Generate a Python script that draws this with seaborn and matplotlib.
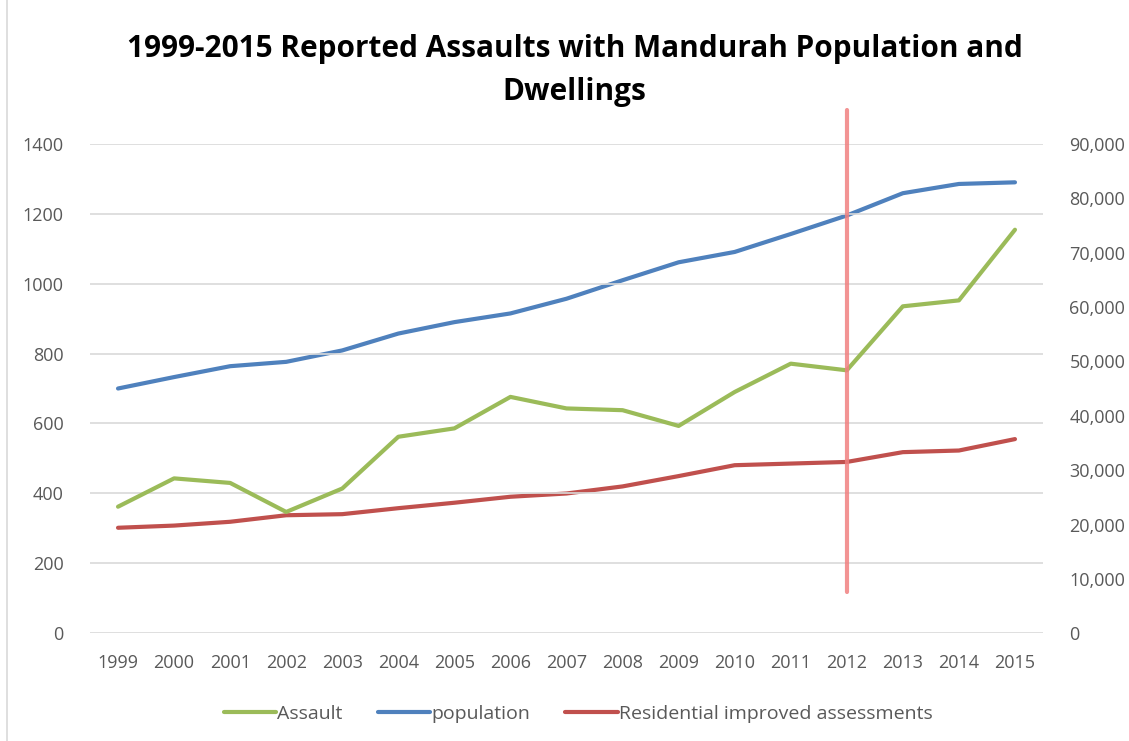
import numpy as np
import pandas as pd
import matplotlib
matplotlib.use("Agg")
import matplotlib.pyplot as plt
import matplotlib.ticker as mticker
import seaborn as sns

#----------------------------------
# Data
#----------------------------------
years = list(range(1999, 2016))
assault = [362, 443, 430, 347, 414, 562, 586, 676, 643, 638, 593, 690, 771, 752, 935, 952, 1154]
population = [45000, 47100, 49100, 49900, 52000, 55100, 57200, 58800, 61500, 64900,
              68200, 70100, 73400, 76800, 80900, 82600, 82900]
residential = [19400, 19800, 20500, 21700, 21900, 23000, 24000, 25100, 25700, 27000,
               28900, 30900, 31200, 31500, 33300, 33600, 35700]

marker_year = 2012
marker_span = [119, 1495]   # vertical extent of the red marker line (left-axis units)

df = pd.DataFrame({"year": years, "Assault": assault,
                   "population": population,
                   "Residential improved assessments": residential})

green = "#9BBB59"
blue = "#4F81BD"
red = "#C0504D"
grey_txt = "#595959"

sns.set_style("white")
plt.rcParams['font.family'] = ['Open Sans', 'DejaVu Sans']

fig = plt.figure(figsize=(11.29, 7.41), dpi=100)
ax = fig.add_axes([90/1129, 1-633.3/741, (1043-90)/1129, (633.3-143.7)/741])
ax2 = ax.twinx()

# right axis series first (drawn under)
sns.lineplot(data=df, x="year", y="population", ax=ax2, color=blue, linewidth=3,
             label="population", legend=False)
sns.lineplot(data=df, x="year", y="Residential improved assessments", ax=ax2, color=red,
             linewidth=3, label="Residential improved assessments", legend=False)
sns.lineplot(data=df, x="year", y="Assault", ax=ax, color=green, linewidth=3,
             label="Assault", legend=False)
ax.set_zorder(ax2.get_zorder() + 1)
ax.patch.set_visible(False)

# red marker line
ax.plot([marker_year, marker_year], marker_span, color="#F08080", alpha=0.85,
        linewidth=3, clip_on=False, zorder=5)

ax.set_xlim(1998.5, 2015.5)
ax.set_ylim(0, 1400)
ax2.set_ylim(0, 90000)
ax.set_xticks(years)
ax.set_yticks(np.arange(0, 1401, 200))
ax2.set_yticks(np.arange(0, 90001, 10000))
ax2.yaxis.set_major_formatter(mticker.FuncFormatter(lambda v, p: f"{int(v):,}"))

ax.grid(axis="y", color="#D9D9D9", linewidth=1.2)
ax2.grid(False)
for a in (ax, ax2):
    for s in a.spines.values():
        s.set_visible(False)
    a.tick_params(length=0, labelsize=13, labelcolor=grey_txt)
    a.set_xlabel("")
    a.set_ylabel("")
ax.tick_params(axis="y", pad=19)
ax2.tick_params(axis="y", pad=19)
ax.tick_params(axis="x", pad=15)

fig.text(0.509, 0.905, "1999-2015 Reported Assaults with Mandurah Population and\nDwellings",
         ha="center", va="center", fontsize=21.4, fontweight="bold", color="black",
         linespacing=1.55)

h1, l1 = ax.get_legend_handles_labels()
h2, l2 = ax2.get_legend_handles_labels()
fig.legend(h1 + h2, l1 + l2, loc="center", bbox_to_anchor=(0.512, 1-714/741), ncol=3,
           frameon=False, fontsize=14, labelcolor=grey_txt, handlelength=2.7,
           handletextpad=0.05, columnspacing=1.8)

# chart border on the left edge
fig.add_artist(plt.Line2D([7/1129, 7/1129], [0, 1], color="#D9D9D9", linewidth=1.2))

fig.savefig("out.png", dpi=100)
